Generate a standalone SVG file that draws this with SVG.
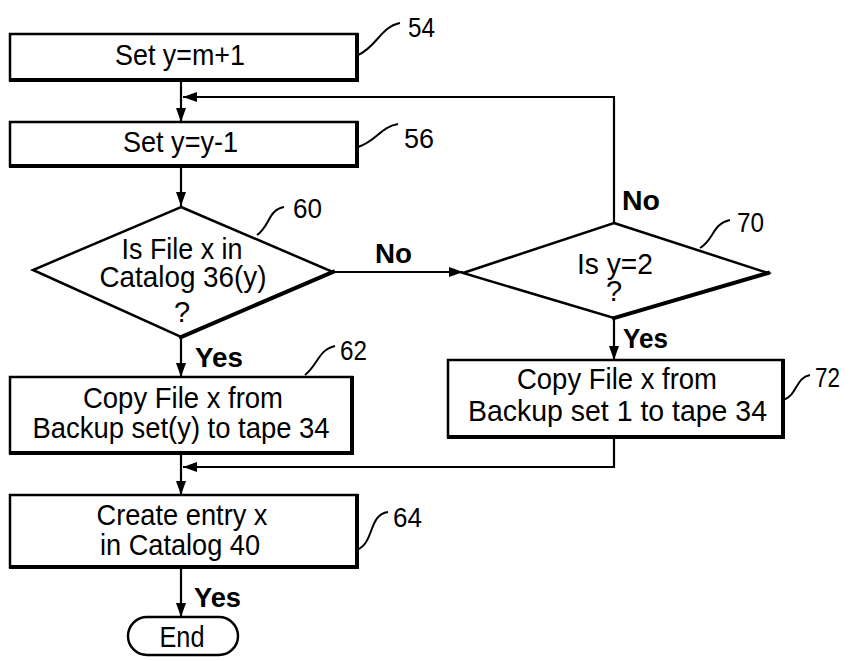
<svg xmlns="http://www.w3.org/2000/svg" width="852" height="661" viewBox="0 0 852 661">
  <style>
    .box { fill: #fff; stroke: #000; stroke-width: 2.5; }
    .shade { fill: none; stroke: #000; stroke-width: 4; stroke-linecap: square; }
    .txt { font-family: "Liberation Sans", Arial, sans-serif; font-size: 29px; fill: #000; text-anchor: middle; }
    .lbl { font-family: "Liberation Sans", Arial, sans-serif; font-size: 28px; font-weight: bold; fill: #000; }
    .ref { font-family: "Liberation Sans", Arial, sans-serif; font-size: 28px; fill: #000; }
    .lead { fill: none; stroke: #000; stroke-width: 2; }
    .conn { fill: none; stroke: #000; stroke-width: 2.2; }
  </style>
  <defs>
    <marker id="arrow" viewBox="0 0 14 10" refX="14" refY="5" markerWidth="14" markerHeight="10" markerUnits="userSpaceOnUse" orient="auto">
      <path d="M0,0 L14,5 L0,10 Z" fill="#000"/>
    </marker>
  </defs>
  <rect width="852" height="661" fill="#fff"/>

  <!-- connectors and branch labels -->
  <g id="connectors">
    <line class="conn" x1="181" y1="80" x2="181" y2="122" marker-end="url(#arrow)"/>
    <polyline class="conn" points="614,223 614,97 183,97" marker-end="url(#arrow)"/>
    <line class="conn" x1="181" y1="166" x2="181" y2="206" marker-end="url(#arrow)"/>
    <line class="conn" x1="333" y1="272" x2="463" y2="272" marker-end="url(#arrow)"/>
    <line class="conn" x1="181" y1="337" x2="181" y2="377" marker-end="url(#arrow)"/>
    <line class="conn" x1="614" y1="318" x2="614" y2="360" marker-end="url(#arrow)"/>
    <line class="conn" x1="181" y1="453" x2="181" y2="495" marker-end="url(#arrow)"/>
    <polyline class="conn" points="614,437 614,467 183,467" marker-end="url(#arrow)"/>
    <line class="conn" x1="181" y1="567" x2="181" y2="617" marker-end="url(#arrow)"/>
    <text class="lbl" x="375" y="263" textLength="37" lengthAdjust="spacingAndGlyphs">No</text>
    <text class="lbl" x="622" y="210" textLength="38" lengthAdjust="spacingAndGlyphs">No</text>
    <text class="lbl" x="195" y="367" textLength="48" lengthAdjust="spacingAndGlyphs">Yes</text>
    <text class="lbl" x="623" y="348" textLength="45" lengthAdjust="spacingAndGlyphs">Yes</text>
    <text class="lbl" x="194" y="607" textLength="47" lengthAdjust="spacingAndGlyphs">Yes</text>
  </g>

  <!-- step 54 -->
  <g id="n54">
    <rect class="box" x="10" y="34" width="347" height="46"/>
    <polyline class="shade" points="11,80 357,80 357,35"/>
    <text class="txt" x="180" y="65" textLength="130" lengthAdjust="spacingAndGlyphs">Set y=m+1</text>
    <path class="lead" d="M358,55 C377,47 380,27 400,23"/>
    <text class="ref" x="408" y="37" textLength="27" lengthAdjust="spacingAndGlyphs">54</text>
  </g>

  <!-- step 56 -->
  <g id="n56">
    <rect class="box" x="10" y="122" width="347" height="44"/>
    <polyline class="shade" points="11,166 357,166 357,123"/>
    <text class="txt" x="180.5" y="152" textLength="115" lengthAdjust="spacingAndGlyphs">Set y=y-1</text>
    <path class="lead" d="M358,147 C377,141 380,127 398,124"/>
    <text class="ref" x="404" y="148" textLength="30" lengthAdjust="spacingAndGlyphs">56</text>
  </g>

  <!-- decision 60 -->
  <g id="n60">
    <polygon class="box" points="181,207 333,272 181,337 33,270"/>
    <polyline class="shade" points="333,272 181,337" stroke-linecap="round"/>
    <text class="txt" x="182" y="259" textLength="121" lengthAdjust="spacingAndGlyphs">Is File x in</text>
    <text class="txt" x="183" y="287" textLength="167" lengthAdjust="spacingAndGlyphs">Catalog 36(y)</text>
    <text class="txt" x="182" y="322">?</text>
    <path class="lead" d="M257,235 C270,226 268,210 284,207"/>
    <text class="ref" x="293" y="218" textLength="29" lengthAdjust="spacingAndGlyphs">60</text>
  </g>

  <!-- decision 70 -->
  <g id="n70">
    <polygon class="box" points="614,223 768,273 614,318 463,273"/>
    <polyline class="shade" points="768,273 614,318" stroke-linecap="round"/>
    <text class="txt" x="615" y="274" textLength="76" lengthAdjust="spacingAndGlyphs">Is y=2</text>
    <text class="txt" x="614" y="301">?</text>
    <path class="lead" d="M700,248 C714,240 712,224 730,220"/>
    <text class="ref" x="737" y="232" textLength="27" lengthAdjust="spacingAndGlyphs">70</text>
  </g>

  <!-- step 62 -->
  <g id="n62">
    <rect class="box" x="10" y="377" width="342" height="76"/>
    <polyline class="shade" points="11,453 352,453 352,378"/>
    <text class="txt" x="183" y="408" textLength="200" lengthAdjust="spacingAndGlyphs">Copy File x from</text>
    <text class="txt" x="181" y="438" textLength="297" lengthAdjust="spacingAndGlyphs">Backup set(y) to tape 34</text>
    <path class="lead" d="M305,375 C318,365 318,350 335,346"/>
    <text class="ref" x="340" y="360" textLength="27" lengthAdjust="spacingAndGlyphs">62</text>
  </g>

  <!-- step 72 -->
  <g id="n72">
    <rect class="box" x="448" y="360" width="335" height="77"/>
    <polyline class="shade" points="449,437 783,437 783,361"/>
    <text class="txt" x="617" y="389" textLength="200" lengthAdjust="spacingAndGlyphs">Copy File x from</text>
    <text class="txt" x="617.5" y="421" textLength="299" lengthAdjust="spacingAndGlyphs">Backup set 1 to tape 34</text>
    <path class="lead" d="M783,400 C798,395 795,378 810,375"/>
    <text class="ref" x="815" y="387" textLength="25" lengthAdjust="spacingAndGlyphs">72</text>
  </g>

  <!-- step 64 -->
  <g id="n64">
    <rect class="box" x="10" y="495" width="347" height="72"/>
    <polyline class="shade" points="11,567 357,567 357,496"/>
    <text class="txt" x="182" y="525" textLength="171" lengthAdjust="spacingAndGlyphs">Create entry x</text>
    <text class="txt" x="180" y="555" textLength="160" lengthAdjust="spacingAndGlyphs">in Catalog 40</text>
    <path class="lead" d="M357,550 C375,542 368,515 388,512"/>
    <text class="ref" x="393" y="527" textLength="29" lengthAdjust="spacingAndGlyphs">64</text>
  </g>

  <!-- terminal -->
  <g id="end">
    <rect class="box" x="128" y="617" width="110" height="38" rx="19" ry="19"/>
    <text class="txt" x="182" y="647" textLength="45" lengthAdjust="spacingAndGlyphs">End</text>
  </g>
</svg>
